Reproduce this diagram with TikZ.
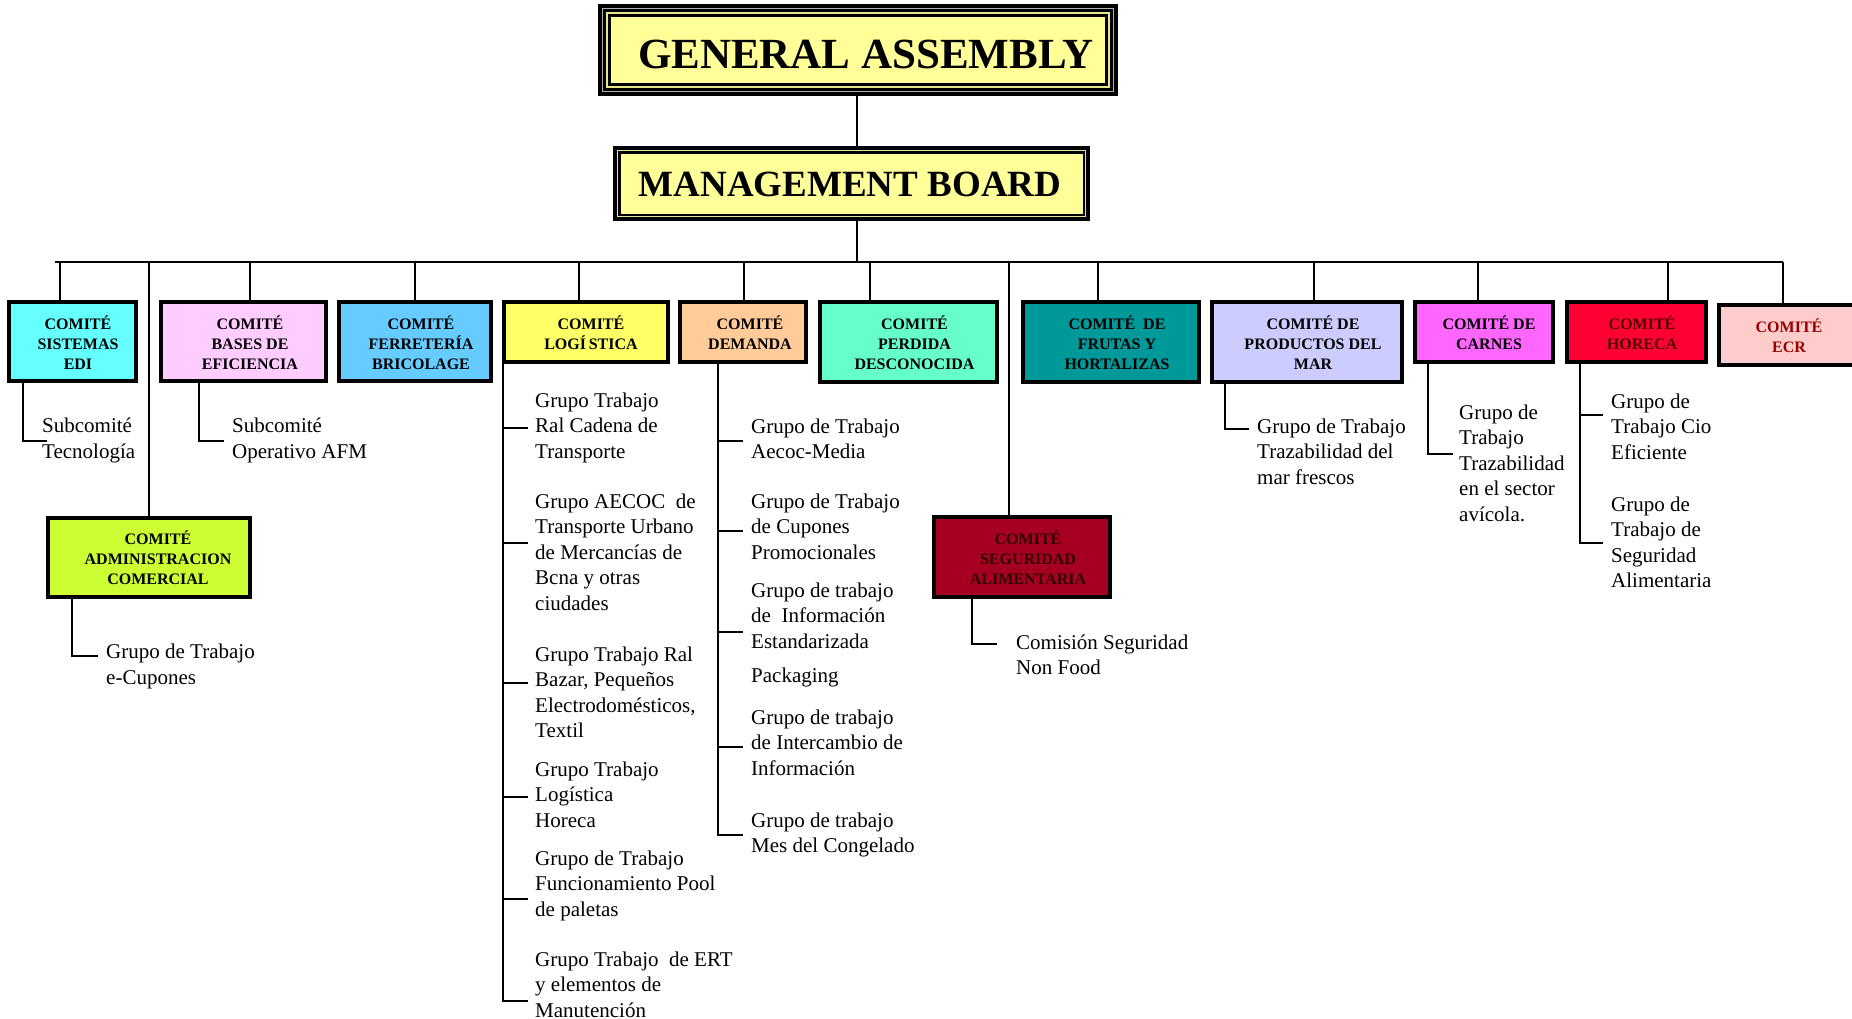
\documentclass[tikz,border=0pt]{standalone}
\usepackage{fontspec}
\setmainfont{Liberation Serif}
\newcommand\mylines[1]{\begin{tabular}[t]{@{}l@{}}#1\end{tabular}}
\newcommand\mycent[1]{\begin{tabular}[t]{@{}c@{}}#1\end{tabular}}
\definecolor{yel}{HTML}{FFFF99}
\definecolor{yline}{HTML}{E6E68A}
\definecolor{gline}{HTML}{B0B0B0}
\definecolor{cedi}{HTML}{66FFFF}
\definecolor{cbas}{HTML}{FFCCFF}
\definecolor{cfer}{HTML}{66CCFF}
\definecolor{clog}{HTML}{FFFF66}
\definecolor{cdem}{HTML}{FFCC99}
\definecolor{cper}{HTML}{66FFCC}
\definecolor{cfru}{HTML}{009999}
\definecolor{cmar}{HTML}{CCCCFF}
\definecolor{ccar}{HTML}{FF66FF}
\definecolor{chor}{HTML}{FF0033}
\definecolor{cecr}{HTML}{FFCCCC}
\definecolor{cadm}{HTML}{CCFF33}
\definecolor{cseg}{HTML}{A50021}
\definecolor{tecr}{HTML}{990000}
\definecolor{thor}{HTML}{4D0000}
\definecolor{tseg}{HTML}{330000}
\tikzset{
  box/.style={draw=black, line width=4pt, inner sep=0pt, rectangle},
  btext/.style={anchor=base, inner sep=0pt, font=\fontsize{16}{20}\selectfont\bfseries},
  ltext/.style={anchor=base west, inner sep=0pt, font=\fontsize{21}{25.5}\selectfont},
  conn/.style={line width=2pt},
}
\begin{document}
\begin{tikzpicture}[x=1pt,y=-1pt]
\fill[white] (0,0) rectangle (1852,1018);
\useasboundingbox (0,0) rectangle (1852,1018);

% General assembly
\node[fill=black, minimum width=520pt, minimum height=92pt, inner sep=0pt] (ga) at (858,50) {};
\draw[gline, line width=0.9pt] (602.3,8.3) rectangle (1113.7,91.7);
\draw[yline, line width=1.3pt] (607,13) rectangle (1109,87);
\node[fill=yel, minimum width=494pt, minimum height=66pt, inner sep=0pt] (gain) at (858,50) {};
\node[anchor=base, inner sep=0pt, font=\fontsize{43}{50}\selectfont\bfseries] (gat) at (866,68) {GENERAL ASSEMBLY};

% Management board
\node[fill=black, minimum width=477pt, minimum height=75pt, inner sep=0pt] (mb) at (851.5,183.5) {};
\draw[yline, line width=1.2pt] (617.5,150.5) rectangle (1085.5,216.5);
\node[fill=yel, minimum width=462pt, minimum height=60pt, inner sep=0pt] (mbin) at (851.5,183.5) {};
\node[anchor=base, inner sep=0pt, font=\fontsize{37}{44}\selectfont\bfseries] (mbt) at (850,196) {MANAGEMENT BOARD};

% committee boxes (row 1)
\node[box, fill=cedi, minimum width=127pt, minimum height=79pt] (edi) at (72.5,341.5) {};
\node[box, fill=cbas, minimum width=165pt, minimum height=79pt] (bas) at (243.5,341.5) {};
\node[box, fill=cfer, minimum width=152pt, minimum height=79pt] (fer) at (415,341.5) {};
\node[box, fill=clog, minimum width=164pt, minimum height=60pt] (log) at (586,332) {};
\node[box, fill=cdem, minimum width=126pt, minimum height=60pt] (dem) at (743,332) {};
\node[box, fill=cper, minimum width=177pt, minimum height=80pt] (per) at (908.5,342) {};
\node[box, fill=cfru, minimum width=176pt, minimum height=80pt] (fru) at (1111,342) {};
\node[box, fill=cmar, minimum width=190pt, minimum height=80pt] (mar) at (1307,342) {};
\node[box, fill=ccar, minimum width=138pt, minimum height=60pt] (car) at (1484,332) {};
\node[box, fill=chor, minimum width=139pt, minimum height=60pt] (hor) at (1636.5,332) {};
\node[box, fill=cecr, minimum width=139pt, minimum height=60pt] (ecr) at (1788.5,335) {};
% row 2
\node[box, fill=cadm, minimum width=202pt, minimum height=79pt] (adm) at (149,557.5) {};
\node[box, fill=cseg, line width=3.5pt, minimum width=176pt, minimum height=80pt] (seg) at (1022,557) {};

% box texts
\node[btext] (edit) at (78,329.5) {\mycent{COMITÉ\\SISTEMAS\\EDI}};
\node[btext] (bast) at (250,329.5) {\mycent{COMITÉ\\BASES DE\\EFICIENCIA}};
\node[btext] (fert) at (421,329.5) {\mycent{COMITÉ\\FERRETERÍA\\BRICOLAGE}};
\node[btext] (logt) at (591,329.5) {\mycent{COMITÉ\\LOGÍ\,STICA}};
\node[btext] (demt) at (750,329.5) {\mycent{COMITÉ\\DEMANDA}};
\node[btext] (pert) at (914.5,329.5) {\mycent{COMITÉ\\PERDIDA\\DESCONOCIDA}};
\node[btext] (frut) at (1117,329.5) {\mycent{COMITÉ\ \ DE\\FRUTAS Y\\HORTALIZAS}};
\node[btext] (mart) at (1313,329.5) {\mycent{COMITÉ DE\\PRODUCTOS DEL\\MAR}};
\node[btext] (cart) at (1489,329.5) {\mycent{COMITÉ DE\\CARNES}};
\node[btext, text=thor] (hort) at (1642,329.5) {\mycent{COMITÉ\\HORECA}};
\node[btext, text=tecr] (ecrt) at (1789,332) {\mycent{COMITÉ\\ECR}};
\node[btext] (admt) at (158,544.5) {\mycent{COMITÉ\\ADMINISTRACION\\COMERCIAL}};
\node[btext, text=tseg] (segt) at (1028,544.5) {\mycent{COMITÉ\\SEGURIDAD\\ALIMENTARIA}};

% connectors: GA - MB - bus
\coordinate (mbB) at (857,262);
\coordinate (busL) at (55,262);
\coordinate (busR) at (1783,262);
\draw[conn] (mbB |- ga.south) -- (mbB |- mb.north);
\draw[conn] (mbB |- mb.south) -- (mbB);
\draw[conn] (busL) -- (busR);

\coordinate (sedi) at (60,262);
\coordinate (sbas) at (250,262);
\coordinate (sfer) at (415,262);
\coordinate (slog) at (579,262);
\coordinate (sdem) at (744,262);
\coordinate (sper) at (870,262);
\coordinate (sfru) at (1098,262);
\coordinate (smar) at (1314,262);
\coordinate (scar) at (1478,262);
\coordinate (shor) at (1668,262);
\coordinate (secr) at (1783,262);
\coordinate (sadm) at (149,262);
\coordinate (sseg) at (1009,262);
\foreach \s/\b in {sedi/edi,sbas/bas,sfer/fer,slog/log,sdem/dem,sper/per,sfru/fru,smar/mar,scar/car,shor/hor,secr/ecr,sadm/adm,sseg/seg}
  \draw[conn] (\s) -- (\s |- \b.north);

% sub labels
\node[ltext] (tec) at (42,432.5) {\mylines{Subcomité\\Tecnología}};
\node[ltext] (afm) at (232,432.5) {\mylines{Subcomité\\Operativo AFM}};
\node[ltext] (ecup) at (106,658.5) {\mylines{Grupo de Trabajo\\e-Cupones}};

\node[ltext] (l1) at (535,407) {\mylines{Grupo Trabajo\\Ral Cadena de\\Transporte}};
\node[ltext] (l2) at (535,508) {\mylines{Grupo AECOC\ \ de\\Transporte Urbano\\de Mercancías de\\Bcna y otras\\ciudades}};
\node[ltext] (l3) at (535,661) {\mylines{Grupo Trabajo Ral\\Bazar, Pequeños\\Electrodomésticos,\\Textil}};
\node[ltext] (l4) at (535,776) {\mylines{Grupo Trabajo\\Logística\\Horeca}};
\node[ltext] (l5) at (535,865) {\mylines{Grupo de Trabajo\\Funcionamiento Pool\\de paletas}};
\node[ltext] (l6) at (535,966) {\mylines{Grupo Trabajo\ \ de ERT\\y elementos de\\Manutención}};

\node[ltext] (d1) at (751,433) {\mylines{Grupo de Trabajo\\Aecoc-Media}};
\node[ltext] (d2) at (751,508) {\mylines{Grupo de Trabajo\\de Cupones\\Promocionales}};
\node[ltext] (d3) at (751,597) {\mylines{Grupo de trabajo\\de\ \ Información\\Estandarizada}};
\node[ltext] (d4) at (751,682) {Packaging};
\node[ltext] (d5) at (751,724) {\mylines{Grupo de trabajo\\de Intercambio de\\Información}};
\node[ltext] (d6) at (751,827) {\mylines{Grupo de trabajo\\Mes del Congelado}};

\node[ltext] (nf) at (1016,649) {\mylines{Comisión Seguridad\\Non Food}};
\node[ltext] (mf) at (1257,433) {\mylines{Grupo de Trabajo\\Trazabilidad del\\mar frescos}};
\node[ltext] (av) at (1459,419) {\mylines{Grupo de\\Trabajo\\Trazabilidad\\en el sector\\avícola.}};
\node[ltext] (h1) at (1611,408) {\mylines{Grupo de\\Trabajo Cio\\Eficiente}};
\node[ltext] (h2) at (1611,511) {\mylines{Grupo de\\Trabajo de\\Seguridad\\Alimentaria}};

% sub connectors
\coordinate (eediE) at (47,441);
\draw[conn] ([xshift=-49.5pt,yshift=3pt]edi.south) |- (eediE);
\coordinate (ebasE) at (224,441);
\draw[conn] ([xshift=-44.5pt,yshift=3pt]bas.south) |- (ebasE);
\coordinate (eadmE) at (98,656);
\draw[conn] ([xshift=-77pt,yshift=3pt]adm.south) |- (eadmE);
\coordinate (esegE) at (997,644);
\draw[conn] ([xshift=-50pt,yshift=3pt]seg.south) |- (esegE);
\coordinate (emarE) at (1249,429);
\draw[conn] ([xshift=-82pt,yshift=3pt]mar.south) |- (emarE);
\coordinate (ecarE) at (1453,454);
\draw[conn] ([xshift=-56pt]car.south) |- (ecarE);

% logistica column
\coordinate (lt1) at (528,428);
\coordinate (lt2) at (528,543);
\coordinate (lt3) at (528,683);
\coordinate (lt4) at (528,797);
\coordinate (lt5) at (528,899);
\coordinate (lt6) at (528,1001);
\draw[conn] ([xshift=-83pt]log.south) |- (lt6);
\foreach \t in {lt1,lt2,lt3,lt4,lt5}
  \draw[conn] (\t -| {503,0}) -- (\t);

% demanda column
\coordinate (dt1) at (743,441);
\coordinate (dt2) at (743,531);
\coordinate (dt3) at (743,632);
\coordinate (dt5) at (743,747);
\coordinate (dt6) at (743,835);
\draw[conn] ([xshift=-25pt]dem.south) |- (dt6);
\foreach \t in {dt1,dt2,dt3,dt5}
  \draw[conn] (\t -| {718,0}) -- (\t);

% horeca column
\coordinate (ht1) at (1603,415);
\coordinate (ht2) at (1603,543);
\draw[conn] ([xshift=-56.5pt]hor.south) |- (ht2);
\draw[conn] (ht1 -| {1580,0}) -- (ht1);
\end{tikzpicture}
\end{document}
